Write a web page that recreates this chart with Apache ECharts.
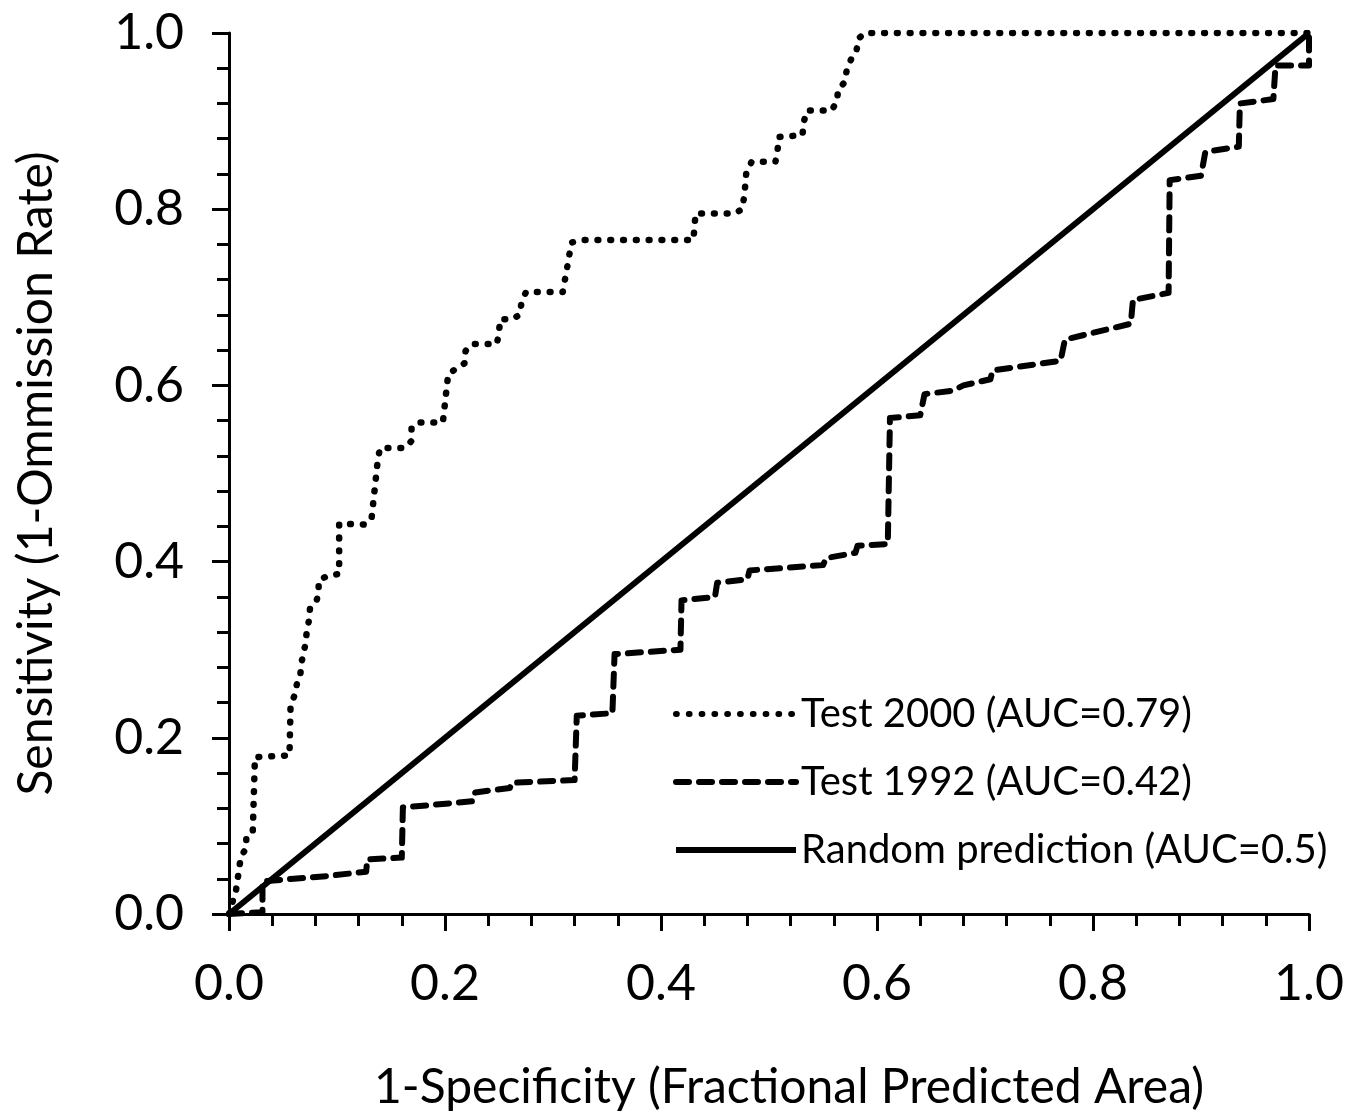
<!DOCTYPE html>
<html>
<head>
<meta charset="utf-8">
<script src="https://cdn.jsdelivr.net/npm/echarts@6/dist/echarts.min.js"></script>
<style>
  html, body { margin: 0; padding: 0; background: #fff; }
  #graph1 { width: 1352px; height: 1111px; }
</style>
</head>
<body>
<div id="graph1"></div>
<script>
var myChart1 = echarts.init(document.getElementById('graph1'));

// ROC curves: [1-specificity, sensitivity]
var test2000 = [
  [0, 0], [0.0065, 0.027], [0.011, 0.065], [0.016, 0.075], [0.016, 0.087],
  [0.022, 0.093], [0.024, 0.178], [0.056, 0.18], [0.057, 0.237],
  [0.061, 0.249], [0.063, 0.262], [0.066, 0.271], [0.067, 0.285],
  [0.069, 0.296], [0.071, 0.308], [0.072, 0.321], [0.074, 0.333],
  [0.075, 0.347], [0.081, 0.355], [0.083, 0.365], [0.083, 0.379],
  [0.092, 0.384], [0.102, 0.386], [0.102, 0.443], [0.126, 0.442],
  [0.132, 0.449], [0.138, 0.518], [0.140, 0.529], [0.163, 0.529],
  [0.169, 0.537], [0.169, 0.552], [0.175, 0.558], [0.198, 0.558],
  [0.203, 0.613], [0.218, 0.625], [0.219, 0.639], [0.225, 0.647],
  [0.248, 0.647], [0.25, 0.66], [0.251, 0.675], [0.262, 0.675],
  [0.269, 0.68], [0.271, 0.695], [0.275, 0.706], [0.309, 0.706],
  [0.314, 0.74], [0.317, 0.762], [0.326, 0.765], [0.430, 0.765],
  [0.431, 0.78], [0.432, 0.795], [0.468, 0.795], [0.475, 0.80],
  [0.477, 0.814], [0.478, 0.827], [0.479, 0.842], [0.484, 0.854],
  [0.506, 0.854], [0.508, 0.868], [0.509, 0.882], [0.531, 0.884],
  [0.532, 0.898], [0.535, 0.912], [0.558, 0.912], [0.563, 0.923],
  [0.564, 0.936], [0.570, 0.944], [0.572, 0.958], [0.576, 0.970],
  [0.581, 0.980], [0.583, 0.994], [0.589, 1.0], [1.0, 1.0]
];
var test1992 = [
  [0, 0], [0.031, 0.002], [0.031, 0.037], [0.06, 0.040], [0.09, 0.043],
  [0.127, 0.048], [0.128, 0.062], [0.16, 0.064], [0.161, 0.121],
  [0.19, 0.124], [0.226, 0.128], [0.228, 0.138], [0.26, 0.143],
  [0.262, 0.149], [0.32, 0.152], [0.322, 0.225], [0.355, 0.228],
  [0.357, 0.295], [0.418, 0.30], [0.419, 0.356], [0.45, 0.36],
  [0.452, 0.376], [0.48, 0.38], [0.482, 0.39], [0.55, 0.396],
  [0.553, 0.404], [0.58, 0.41], [0.582, 0.418], [0.61, 0.42],
  [0.612, 0.563], [0.64, 0.566], [0.644, 0.59], [0.67, 0.594],
  [0.68, 0.60], [0.705, 0.607], [0.707, 0.617], [0.77, 0.628],
  [0.774, 0.652], [0.835, 0.67], [0.837, 0.697], [0.87, 0.705],
  [0.871, 0.833], [0.9, 0.838], [0.904, 0.865], [0.935, 0.871],
  [0.936, 0.92], [0.967, 0.925], [0.969, 0.963], [1.0, 0.963],
  [1.0, 1.0]
];
var randomLine = [[0, 0], [1, 1]];

var seriesNames = ['Test 2000 (AUC=0.79)', 'Test 1992 (AUC=0.42)', 'Random prediction (AUC=0.5)'];
var xTitle = '1-Specificity (Fractional Predicted Area)';
var yTitle = 'Sensitivity (1-Ommission Rate)';

var font = 'Lato';

function axis(name, gap, pad) {
  return {
    type: 'value',
    min: 0,
    max: 1,
    interval: 0.2,
    name: name,
    nameLocation: 'middle',
    nameGap: gap,
    nameTextStyle: { fontFamily: font, fontSize: 48, color: '#000', padding: pad },
    axisLine: { show: true, onZero: false, lineStyle: { color: '#000', width: 3 } },
    axisTick: { show: true, length: 17, lineStyle: { color: '#000', width: 3 } },
    minorTick: { show: true, splitNumber: 5, length: 12, lineStyle: { color: '#000', width: 3 } },
    splitLine: { show: false },
    axisLabel: {
      fontFamily: font, fontSize: 50, color: '#000', margin: 45,
      formatter: function (v) { return v.toFixed(1); }
    }
  };
}

var option = {
  animation: false,
  backgroundColor: '#fff',
  grid: { left: 229, right: 43, top: 33, bottom: 197, containLabel: false, outerBoundsMode: 'none' },
  xAxis: axis(xTitle, 150, [0, 0, 0, 40]),
  yAxis: axis(yTitle, 168, [0, 0, 0, 0]),
  legend: {
    orient: 'vertical',
    left: 668,
    top: 688,
    itemWidth: 120,
    itemHeight: 20,
    itemGap: 26,
    itemStyle: { opacity: 0 },
    lineStyle: { width: 6 },
    textStyle: { fontFamily: font, fontSize: 40, color: '#000', lineHeight: 42 },
    data: seriesNames
  },
  series: [
    {
      name: seriesNames[0],
      type: 'line',
      data: test2000,
      symbol: 'none',
      showSymbol: false,
      lineStyle: { color: '#000', width: 6.5, type: [0.8, 12], cap: 'round', join: 'round' },
      itemStyle: { color: '#000' }
    },
    {
      name: seriesNames[1],
      type: 'line',
      data: test1992,
      symbol: 'none',
      showSymbol: false,
      lineStyle: { color: '#000', width: 6, type: [13, 10], cap: 'round', join: 'round' },
      itemStyle: { color: '#000' }
    },
    {
      name: seriesNames[2],
      type: 'line',
      data: randomLine,
      symbol: 'none',
      showSymbol: false,
      lineStyle: { color: '#000', width: 6 },
      itemStyle: { color: '#000' }
    }
  ]
};
myChart1.setOption(option);
</script>
</body>
</html>
